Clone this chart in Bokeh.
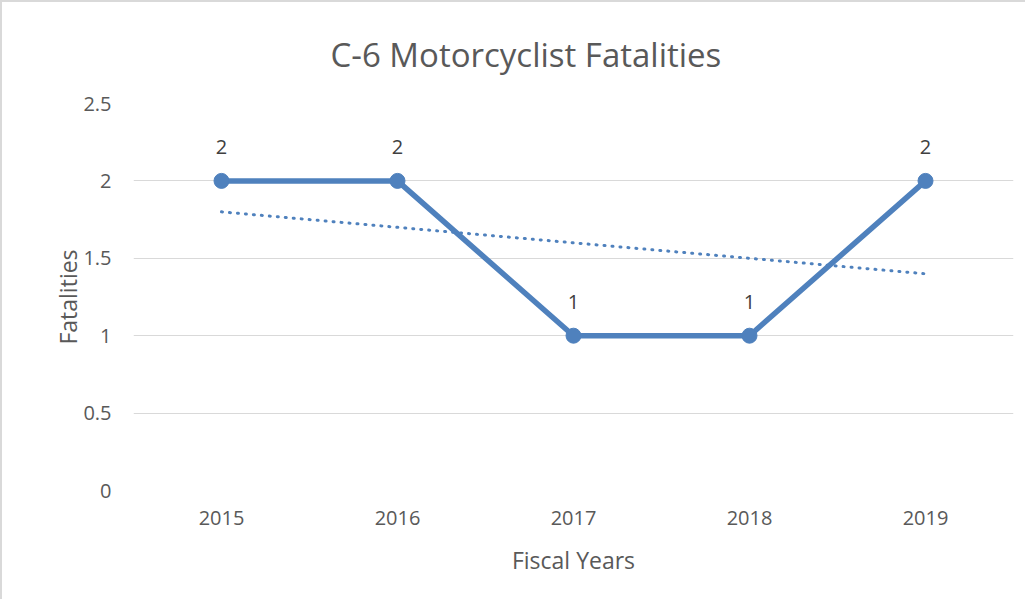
from bokeh.plotting import figure
from bokeh.models import ColumnDataSource, FactorRange, Range1d, FixedTicker
from bokeh.core.properties import value
from bokeh.embed import file_html
from bokeh.resources import INLINE
import numpy as np

years = ["2015", "2016", "2017", "2018", "2019"]
fatalities = [2, 2, 1, 1, 2]
y_ticks = [0, 0.5, 1, 1.5, 2, 2.5]

# linear trendline from the data
xi = np.arange(len(fatalities))
slope, intercept = np.polyfit(xi, fatalities, 1)
trend = list(intercept + slope * xi)

FONT = "Open Sans"
BLUE = "#4F81BD"
GREY = "#595959"

src = ColumnDataSource(dict(x=years, y=fatalities, t=trend, lbl=[str(v) for v in fatalities]))

p = figure(width=1025, height=599, x_range=FactorRange(*years, range_padding=0),
           y_range=Range1d(0, 2.5), output_backend="svg", toolbar_location=None,
           min_border_left=131, min_border_right=14, min_border_top=101, min_border_bottom=111)
p.styles = {"border-left": "2px solid #d9d9d9", "border-top": "2px solid #d9d9d9"}

p.title.text = "C-6 Motorcyclist Fatalities"
p.title.align = "left"
p.title.offset = 197
p.title.text_font = FONT
p.title.text_font_size = "33px"
p.title.text_font_style = "normal"
p.title.text_color = GREY
p.title.standoff = 53

p.outline_line_color = None
p.xgrid.grid_line_color = None
p.ygrid.grid_line_color = "#d9d9d9"
p.ygrid.grid_line_width = 1

p.yaxis.ticker = FixedTicker(ticks=y_ticks)
for ax in (p.xaxis[0], p.yaxis[0]):
    ax.axis_line_color = None
    ax.major_tick_line_color = None
    ax.minor_tick_line_color = None
    ax.major_label_text_font = FONT
    ax.major_label_text_font_size = "20px"
    ax.major_label_text_color = GREY
    ax.axis_label_text_font = FONT
    ax.axis_label_text_font_size = "23px"
    ax.axis_label_text_font_style = "normal"
    ax.axis_label_text_color = GREY
p.yaxis.major_label_standoff = 16
p.xaxis.major_label_standoff = 14
p.xaxis.axis_label = "Fiscal Years"
p.yaxis.axis_label = "Fatalities"
p.xaxis.axis_label_standoff = 16
p.yaxis.axis_label_standoff = -4

p.line("x", "y", source=src, line_color=BLUE, line_width=5.5)
p.scatter("x", "y", source=src, size=15, fill_color=BLUE, line_color=BLUE)
p.line("x", "t", source=src, line_color=BLUE, line_width=3, line_dash="1 7", line_cap="round")
p.text("x", "y", text="lbl", source=src, y_offset=-34, text_align="center",
       text_baseline="middle", text_font=value(FONT), text_font_size="20px", text_color="#404040")

open("out.html", "w").write(file_html(p, INLINE))
